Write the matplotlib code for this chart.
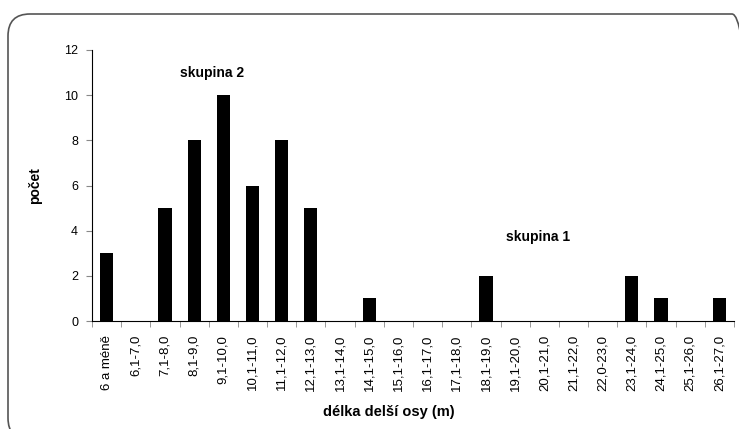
import matplotlib
matplotlib.use("Agg")
import matplotlib.pyplot as plt
import numpy as np
from matplotlib.patches import FancyBboxPatch

plt.rcParams['font.family'] = ['Liberation Sans', 'DejaVu Sans']

categories = ["6 a méně", "6,1-7,0", "7,1-8,0", "8,1-9,0", "9,1-10,0", "10,1-11,0",
              "11,1-12,0", "12,1-13,0", "13,1-14,0", "14,1-15,0", "15,1-16,0",
              "16,1-17,0", "17,1-18,0", "18,1-19,0", "19,1-20,0", "20,1-21,0",
              "21,1-22,0", "22,0-23,0", "23,1-24,0", "24,1-25,0", "25,1-26,0",
              "26,1-27,0"]
counts = [3, 0, 5, 8, 10, 6, 8, 5, 0, 1, 0, 0, 0, 2, 0, 0, 0, 0, 2, 1, 0, 1]
yticks = [0, 2, 4, 6, 8, 10, 12]

W, H = 739, 429
fig = plt.figure(figsize=(W / 100, H / 100), dpi=100)

# background axes in pixel units (origin bottom-left), just for the rounded frame
bg = fig.add_axes([0, 0, 1, 1])
bg.set_xlim(0, W)
bg.set_ylim(0, H)
bg.axis("off")
frame = FancyBboxPatch((8, H - 440), 746, 426,
                       boxstyle="round,pad=0,rounding_size=22",
                       fill=False, edgecolor="#555555", linewidth=1.2)
bg.add_patch(frame)

ax = fig.add_axes([92 / W, 1 - 321 / H, (734 - 92) / W, (321 - 50) / H])
x = np.arange(len(categories))
ax.bar(x, counts, width=0.45, color="black")

ax.set_xlim(-0.5, len(categories) - 0.5)
ax.set_ylim(0, 12)
ax.set_yticks(yticks)
ax.set_yticklabels([str(v) for v in yticks], fontsize=9)
ax.set_xticks(x)
ax.set_xticklabels(categories, rotation=90, fontsize=9.5)
ax.tick_params(axis="x", length=0, pad=10)
ax.set_xticks(np.arange(len(categories) + 1) - 0.5, minor=True)
ax.tick_params(axis="x", which="minor", length=4, color="#888888")
ax.tick_params(axis="y", length=4, color="#888888", pad=6)

for s in ["top", "right"]:
    ax.spines[s].set_visible(False)
ax.spines["left"].set_linewidth(0.8)
ax.spines["bottom"].set_linewidth(0.8)

ax.set_ylabel("počet", fontsize=10, fontweight="bold", labelpad=16)
ax.set_xlabel("délka delší osy (m)", fontsize=10.5, fontweight="bold", labelpad=12)
ax.xaxis.set_label_coords((389 - 92) / (734 - 92), -0.31)

ax.text(3.6, 11.0, "skupina 2", fontsize=10, fontweight="bold", ha="center", va="center")
ax.text(14.8, 3.7, "skupina 1", fontsize=10, fontweight="bold", ha="center", va="center")

fig.savefig("out.png", dpi=100)
